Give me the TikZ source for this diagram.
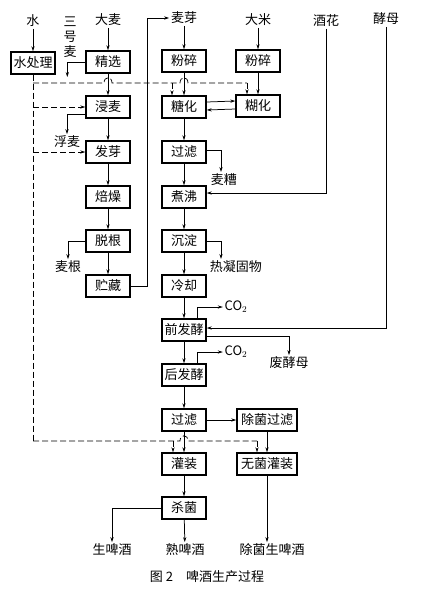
\documentclass[tikz,border=0pt]{standalone}
\usepackage{fontspec}
\setmainfont{Noto Sans CJK SC}
\usetikzlibrary{arrows.meta}

\tikzset{
  box/.style={draw,line width=1.4pt,minimum width=44pt,minimum height=22pt,inner sep=2pt},
  wbox/.style={box,minimum width=60pt},
  lbl/.style={inner sep=1.5pt},
  arr/.style={-{Stealth[length=5pt,width=3.2pt]}},
  water/.style={dash pattern=on 6pt off 3pt},
}

\begin{document}
\begin{tikzpicture}[x=1pt,y=-1pt,line width=0.75pt,font=\fontsize{13}{15}\selectfont]
\useasboundingbox (0,0) rectangle (422,600);

% malt line
\node[box] (shuichuli) at (33,63) {水处理};
\node[box] (jingxuan) at (108,62) {精选};
\node[box] (jinmai) at (108,107) {浸麦};
\node[box] (faya) at (108,152) {发芽};
\node[box] (beizao) at (108,197) {焙燥};
\node[box] (tuogen) at (108,241) {脱根};
\node[box] (zhucang) at (108,286) {贮藏};
% wort line
\node[box] (fensui) at (184,61) {粉碎};
\node[box] (tanghua) at (184,107) {糖化};
\node[box] (guolv) at (184,152) {过滤};
\node[box] (zhufei) at (184,197) {煮沸};
\node[box] (chendian) at (184,241) {沉淀};
\node[box] (lengque) at (184,286) {冷却};
\node[box] (fensuib) at (258,61) {粉碎};
\node[box] (huhua) at (258,106) {糊化};
% beer line
\node[box] (qianfj) at (184,330) {前发酵};
\node[box] (houfj) at (184,375) {后发酵};
\node[box] (guolvb) at (184,420) {过滤};
\node[wbox] (chujun) at (267,420) {除菌过滤};
\node[box] (guanzhuang) at (184,464) {灌装};
\node[wbox] (wujun) at (267,464) {无菌灌装};
\node[box] (shajun) at (184,508) {杀菌};

% labels
\node[lbl] (shui) at (33,21) {水};
\node[lbl] (damai) at (108,20) {大麦};
\node[lbl,align=center] (sanhao) at (70,37) {三\\号\\麦};
\node[lbl] (maiya) at (184,18) {麦芽};
\node[lbl] (dami) at (258,20) {大米};
\node[lbl] (jiuhua) at (326,21) {酒花};
\node[lbl] (jiaomu) at (386,19) {酵母};
\node[lbl] (fumai) at (67,142) {浮麦};
\node[lbl] (maigen) at (68,267) {麦根};
\node[lbl,anchor=north west] (maizao) at (209,172) {麦糟};
\node[lbl,anchor=north west] (rnw) at (208,259) {热凝固物};
\node[lbl] (co2a) at (236,307) {CO$_2$};
\node[lbl] (co2b) at (236,352) {CO$_2$};
\node[lbl] (feijm) at (289,363) {废酵母};
\node[lbl] (shengpi) at (112,550) {生啤酒};
\node[lbl] (shupi) at (185,550) {熟啤酒};
\node[lbl] (cjsp) at (272,550) {除菌生啤酒};
\node[lbl] (tuti) at (207,577) {图 2\quad 啤酒生产过程};

% solid flow
\draw[arr] (shui) -- (shuichuli);
\draw[arr] (damai) -- (jingxuan);
\draw[arr] (jingxuan) -- (jinmai);
\draw[arr] (jinmai) -- (faya);
\draw[arr] (faya) -- (beizao);
\draw[arr] (beizao) -- (tuogen);
\draw[arr] (tuogen) -- (zhucang);
\draw[arr] (jingxuan.west) -- ++(-18,0) -- ++(0,15);
\draw[arr] ([yshift=-7pt]jinmai.west) -| (fumai.north);
\draw[arr] (tuogen.west) -| (maigen.north);
\draw[arr] (zhucang.east) -- ++(17,0) |- (maiya.west);
\draw[arr] (maiya) -- (fensui);
\draw[arr] (dami) -- (fensuib);
\draw[arr] (fensuib) -- (huhua);
\draw[arr] (fensui) -- (tanghua);
\draw[arr] ([yshift=5pt]tanghua.east) -- ([yshift=5pt]huhua.west);
\draw[arr] ([yshift=-3pt]huhua.west) -- ([yshift=-3pt]tanghua.east);
\draw[arr] (tanghua) -- (guolv);
\draw[arr] (guolv) -- (zhufei);
\draw[arr] (zhufei) -- (chendian);
\draw[arr] (chendian) -- (lengque);
\draw[arr] ([yshift=2pt]guolv.east) -| ([xshift=12pt]maizao.north west);
\draw[arr] (jiuhua) |- ([yshift=4pt]zhufei.east);
\draw[arr] (chendian.east) -| ([xshift=13pt]rnw.north west);
\draw[arr] (lengque) -- (qianfj);
\draw[arr] ([xshift=13pt]qianfj.north) |- (co2a);
\draw[arr] (jiaomu) |- ([yshift=2pt]qianfj.east);
\draw[arr] ([yshift=-6pt]qianfj.east) -| (feijm.north);
\draw[arr] (qianfj) -- (houfj);
\draw[arr] ([xshift=13pt]houfj.north) |- (co2b);
\draw[arr] (houfj) -- (guolvb);
\draw[arr] (guolvb) -- (chujun);
\draw[arr] (chujun) -- (wujun);
\draw[arr] (guolvb) -- (guanzhuang);
\draw[arr] (guanzhuang) -- (shajun);
\draw[arr] (shajun) -- (shupi);
\draw[arr] (shajun.west) -| (shengpi.north);
\draw[arr] (wujun) -- (wujun |- cjsp.north);

% water (dashed)
\coordinate (wt) at (33,83);
\coordinate (wb) at (33,441);
\coordinate (wg) at (172,83);
\coordinate (wh) at (247,83);
\coordinate (wk) at (173,441);
\coordinate (wj) at (257,441);
\draw[water] (shuichuli.south) -- (wb);
\draw[water,arr] (wt |- jinmai) -- (jinmai.west);
\draw[water,arr] (wt |- faya) -- (faya.west);
\draw[water] (wt) -- (104,83) .. controls (104,76) and (112,76) .. (112,83)
  -- (180,83) .. controls (180,76) and (188,76) .. (188,83) -- (wh);
\draw[water,arr] (wg) -- (wg |- tanghua.north);
\draw[water,arr] (wh) -- (wh |- huhua.north);
\draw[water] (wb) -- (180,441) .. controls (180,434) and (188,434) .. (188,441) -- (wj);
\draw[water,arr] (wk) -- (wk |- guanzhuang.north);
\draw[water,arr] (wj) -- (wj |- wujun.north);
\end{tikzpicture}
\end{document}
